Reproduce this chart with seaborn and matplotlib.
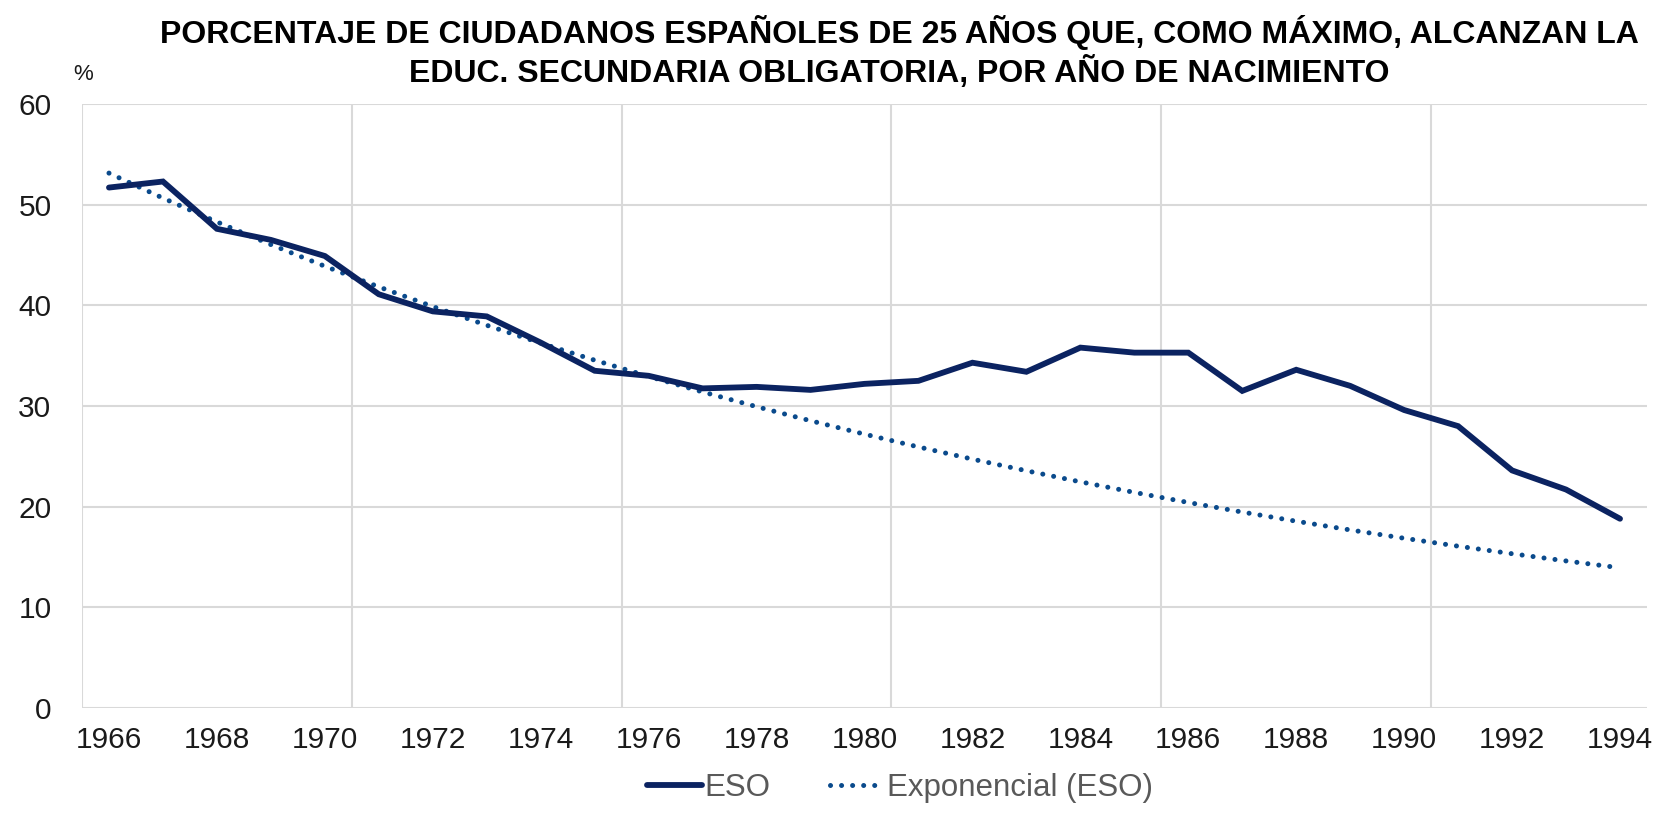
import numpy as np
import pandas as pd
import matplotlib
matplotlib.use("Agg")
import matplotlib.pyplot as plt
import seaborn as sns
from matplotlib.lines import Line2D

years = list(range(1966, 1995))
eso = [51.7, 52.3, 47.6, 46.5, 44.9, 41.1, 39.4, 38.9, 36.3, 33.5,
       33.0, 31.75, 31.9, 31.6, 32.2, 32.5, 34.3, 33.4, 35.8, 35.3,
       35.3, 31.5, 33.6, 32.0, 29.6, 28.0, 23.6, 21.7, 18.8]
fit_n = 12  # exponential trendline fitted on the first years (as in the source)
title = ("PORCENTAJE DE CIUDADANOS ESPAÑOLES DE 25 AÑOS QUE, COMO MÁXIMO, ALCANZAN LA\n"
         "EDUC. SECUNDARIA OBLIGATORIA, POR AÑO DE NACIMIENTO")
xtick_labels = [str(y) for y in range(1966, 1995, 2)]
yticks = [0, 10, 20, 30, 40, 50, 60]

sns.set_theme(style="white")
plt.rcParams['font.family'] = ['Liberation Sans', 'DejaVu Sans']

# exponential trendline (least squares on log values)
yr = np.array(years, dtype=float)
coef = np.polyfit(yr[:fit_n], np.log(np.array(eso[:fit_n])), 1)
trend = np.exp(np.polyval(coef, yr))

df = pd.DataFrame({"year": years, "ESO": eso, "trend": trend})

fig = plt.figure(figsize=(16.62, 8.14), dpi=100)
ax = fig.add_axes([82/1662, 1-708/814, (1647-82)/1662, (708-104)/814])

navy = "#0B2361"
blue = "#0A4A8C"
dot_style = (0, (0.01, 2.2))

sns.lineplot(data=df, x="year", y="trend", ax=ax, color=blue, linewidth=3.6,
             linestyle=dot_style, dash_capstyle="round", zorder=3)
sns.lineplot(data=df, x="year", y="ESO", ax=ax, color=navy, linewidth=4.2,
             solid_joinstyle="miter", zorder=4)

ax.set_xlim(1965.5, 1994.5)
ax.set_ylim(0, 60)
ax.set_yticks(yticks)
ax.set_yticklabels([str(v) for v in yticks])
ax.set_xticks(range(1966, 1995, 2))
ax.set_xticklabels(xtick_labels)
ax.tick_params(axis="both", length=0, labelsize=21.5, colors="#1a1a1a")
ax.tick_params(axis="y", pad=22)
ax.tick_params(axis="x", pad=13)
ax.set_xlabel("")
ax.set_ylabel("")

# gridlines
ax.grid(False)
for v in yticks:
    ax.axhline(v, color="#D9D9D9", linewidth=1.5, zorder=1)
for b in [1965.5, 1970.5, 1975.5, 1980.5, 1985.5, 1990.5]:
    ax.axvline(b, color="#D9D9D9", linewidth=1.5, zorder=1)
for s in ax.spines.values():
    s.set_visible(False)

fig.text(899/1662, 1-52/814, title, ha="center", va="center", fontsize=23,
         fontweight="bold", color="black", linespacing=1.2)
fig.text(83/1662, 1-74/814, "%", ha="center", va="center", fontsize=16, color="#1a1a1a")

handles = [Line2D([0], [0], color=navy, linewidth=4.2),
           Line2D([0], [0], color=blue, linewidth=3.6, linestyle=dot_style,
                  dash_capstyle="round")]
fig.legend(handles, ["ESO", "Exponencial (ESO)"], loc="center",
           bbox_to_anchor=(849/1568, 1-788/814), ncol=2, frameon=False,
           fontsize=22.5, labelcolor="#595959", handlelength=1.75, handletextpad=0.08,
           columnspacing=1.9)

fig.savefig("out.png", dpi=100)
